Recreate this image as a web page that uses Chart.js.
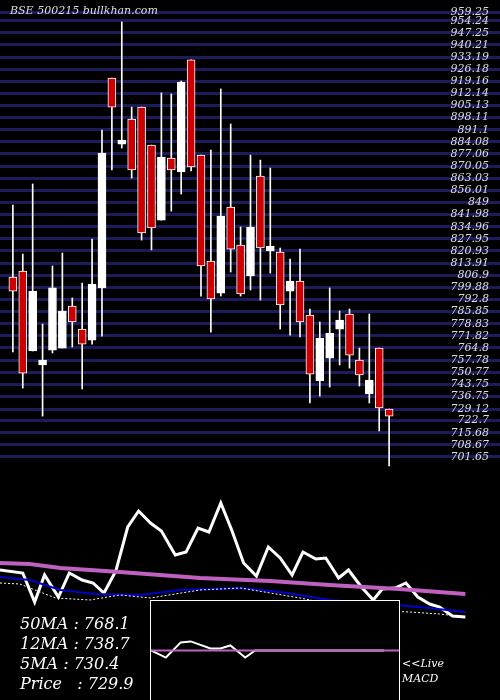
<!DOCTYPE html>
<html>
<head>
<meta charset="utf-8">
<script src="https://cdn.jsdelivr.net/npm/chart.js@4"></script>
<style>
  body { margin: 0; background: #000; width: 500px; height: 700px; overflow: hidden; position: relative; }
  canvas { display: block; }
  #priceBox { position: absolute; left: 0; top: 0; width: 500px; height: 470px; }
  #maBox { position: absolute; left: 0; top: 470px; width: 500px; height: 230px; }
  #macdBox { position: absolute; left: 150px; top: 600px; width: 250px; height: 100px; border: 1px solid #fff; border-bottom: none; box-sizing: border-box; background: #000; }
  .txt { position: absolute; color: #fff; font-family: "DejaVu Serif", "Liberation Serif", serif; font-style: italic; }
  #title { left: 10px; top: 4px; font-size: 11px; color: #ddd; }
  #stats { left: 20px; top: 614px; font-size: 16px; line-height: 20px; }
  #live { left: 402px; top: 656px; font-size: 11px; line-height: 15px; }
</style>
</head>
<body>
<div id="priceBox"><canvas id="priceChart" width="500" height="470"></canvas></div>
<div id="maBox"><canvas id="maChart" width="500" height="230"></canvas></div>
<div id="macdBox"><canvas id="macdChart" width="248" height="99"></canvas></div>
<div id="title" class="txt">BSE 500215 bullkhan.com</div>
<div id="stats" class="txt">50MA : 768.1<br>12MA : 738.7<br>5MA : 730.4<br>Price &nbsp;&nbsp;: 729.9</div>
<div id="live" class="txt">&lt;&lt;Live<br>MACD</div>
<script>
// candles: open, high, low, close (index 1..39)
const opens  = [805.8,809.3,763.0,754.9,763.5,764.7,789.0,775.7,769.3,799.5,921.0,882.8,897.3,904.2,882.2,838.8,874.7,866.6,931.5,876.4,815.1,796.5,846.3,824.3,806.4,864.3,820.9,820.3,797.7,803.5,783.8,745.6,758.9,775.7,784.4,757.8,738.1,764.7,729.4];
const highs  = [847.5,819.1,859.7,778.6,812.2,819.7,793.7,802.3,827.8,890.9,921.0,953.5,904.2,904.2,882.2,912.4,911.8,919.3,931.5,876.4,879.3,914.7,894.4,834.8,876.4,873.5,868.9,822.6,816.2,822.0,787.3,779.8,799.5,786.1,787.3,764.7,784.4,764.7,729.4];
const lows   = [762.4,741.5,763.0,725.3,761.8,764.7,765.3,741.0,767.0,771.6,867.8,880.5,863.1,827.2,821.5,838.8,844.0,853.9,867.2,794.8,773.9,794.8,808.7,794.8,798.3,792.5,808.1,775.7,772.2,771.1,732.9,736.9,742.1,754.9,753.1,742.7,732.9,716.7,696.4];
const closes = [797.7,750.2,797.7,757.8,799.5,786.1,779.8,767.0,801.8,877.6,904.2,885.1,867.8,831.3,834.2,875.3,867.8,918.7,869.5,812.2,793.1,841.1,822.0,796.0,834.8,822.6,823.8,789.6,803.5,779.8,749.6,770.5,773.4,780.9,760.6,749.1,746.2,730.0,725.3];

const priceTicks = [959.25,954.24,947.25,940.21,933.19,926.18,919.16,912.14,905.13,898.11,891.1,884.08,877.06,870.05,863.03,856.01,849,841.98,834.96,827.95,820.93,813.91,806.9,799.88,792.8,785.85,778.83,771.82,764.8,757.78,750.77,743.75,736.75,729.12,722.7,715.68,708.67,701.65];

// lower panel lines, x in candle index units
const priceLineX = [-0.3,2,3.2,4.2,5.6,6.7,8,9.1,10.2,11.4,12.6,13.7,14.9,16,17.4,18.5,19.7,20.8,22,23.1,24.3,25.6,26.8,28,29.2,30.3,31.6,32.6,33.9,34.9,36.2,37.4,38.3,39.6,40.7,41.9,43.1,44.1,45.4,46.7];
const priceLine  = [130,127,98,125,103,127,120,117,107,129,173,189,177,169,145,148,172,168,197,170,137,124,153,142,125,148,141,142,122,130,113,100,111,112,117,103,96,93,84,83];
const ma50X = [-0.3,2.7,5.8,11.8,19.9,27,33,40,46.7];
const ma50  = [137,136,132,128,122,119,115,111,106];
const ma12X = [-0.3,2.7,5.8,9.3,13.8,17.9,24,28,33,38.1,42.1,46.7];
const ma12  = [123,120,110,106,105,110,112,108,100,96,93,88];
const ma5X  = [-0.3,1.7,5.3,8.8,11.8,14.9,19.9,24,30,36.1,41.1,44.1,46.7];
const ma5   = [117,116,102,100,105,102,110,112,102,90,88,86,83];

// MACD box, x in pixels of the box width (0..250)
const macdX = [0,15,30,40,60,70,80,95,105,235];
const macd  = [0,-7,8,9,2,2,5,-7,0,0];
const signalX = [0,250];
const signal  = [0,0];

const xMin = -0.3, xMax = 50.2;
const base = {
  responsive: false, animation: false, maintainAspectRatio: false, devicePixelRatio: 1,
  plugins: { legend: { display: false }, tooltip: { enabled: false } },
  layout: { padding: 0 }
};

new Chart(document.getElementById("priceChart"), {
  type: "bar",
  data: {
    datasets: [
      {
        data: lows.map((l, i) => ({ x: i + 1, y: [l, highs[i]] })),
        backgroundColor: "#fff", barThickness: 1, grouped: false, order: 2
      },
      {
        data: opens.map((o, i) => ({ x: i + 1, y: [o, closes[i]] })),
        backgroundColor: closes.map((c, i) => c >= opens[i] ? "#fff" : "#cc0000"),
        borderColor: "#fff", borderWidth: 1, borderSkipped: false,
        barThickness: 8, grouped: false, order: 1
      }
    ]
  },
  options: {
    ...base,
    scales: {
      x: { type: "linear", min: xMin, max: xMax, display: false, offset: false },
      y: {
        position: "right", min: 694.1, max: 966.2,
        afterBuildTicks: s => { s.ticks = priceTicks.map(v => ({ value: v })); },
        afterFit: s => { s.paddingTop = 0; s.paddingBottom = 0; s.width = 0; },
        grid: { color: "#1c1c5c", lineWidth: 3, drawTicks: false },
        border: { display: false },
        ticks: {
          mirror: true, padding: -11, color: "#ddd", autoSkip: false,
          font: { family: "DejaVu Serif", style: "italic", size: 11 },
          callback: v => String(v)
        }
      }
    }
  }
});

const line = (xs, ys, color, width, dash) => ({
  data: xs.map((x, i) => ({ x, y: ys[i] })),
  borderColor: color, borderWidth: width, borderDash: dash || [],
  pointRadius: 0, tension: 0, fill: false
});

new Chart(document.getElementById("maChart"), {
  type: "line",
  data: {
    datasets: [
      line(ma5X, ma5, "#fff", 1, [2, 2]),
      line(ma12X, ma12, "#0000cc", 2),
      line(ma50X, ma50, "#c060c0", 4),
      line(priceLineX, priceLine, "#fff", 3)
    ]
  },
  options: {
    ...base,
    scales: {
      x: { type: "linear", min: xMin, max: xMax, display: false },
      y: { min: 0, max: 230, display: false }
    }
  }
});

new Chart(document.getElementById("macdChart"), {
  type: "line",
  data: {
    datasets: [
      line(signalX, signal, "#c060c0", 2),
      line(macdX, macd, "#fff", 2)
    ]
  },
  options: {
    ...base,
    scales: {
      x: { type: "linear", min: 0, max: 250, display: false },
      y: { min: -49, max: 49, display: false }
    }
  }
});
</script>
</body>
</html>
